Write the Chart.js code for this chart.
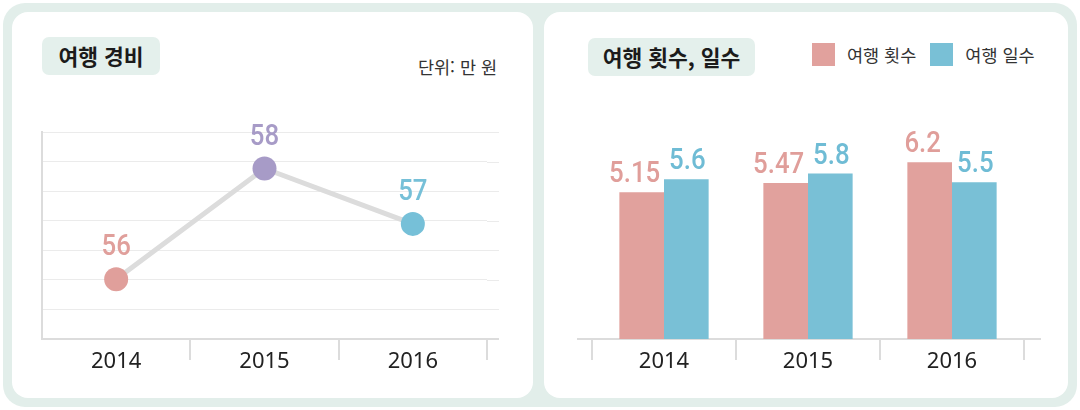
<!DOCTYPE html>
<html lang="ko">
<head>
<meta charset="utf-8">
<script src="https://cdn.jsdelivr.net/npm/chart.js@4.4.1/dist/chart.umd.min.js"></script>
<style>
  html, body { margin: 0; padding: 0; background: #fff; width: 1080px; height: 410px; overflow: hidden;
    font-family: "Noto Sans CJK KR", "Noto Sans", sans-serif; }
  #frame { position: absolute; left: 3px; top: 3px; width: 1074px; height: 404px; background: #e2eeea; border-radius: 22px; }
  .panel { position: absolute; top: 12px; height: 386px; background: #fff; border-radius: 16px; }
  #panelLeft { left: 12px; width: 521px; }
  #panelRight { left: 544px; width: 524px; }
  .title { position: absolute; height: 38px; line-height: 38px; background: #e4f0ec; border-radius: 7px;
    font-weight: 700; font-size: 21.5px; color: #1b1b1b; text-align: center; white-space: nowrap; }
  #titleLeft { left: 42px; top: 37px; width: 118px; }
  #titleRight { left: 588px; top: 38px; width: 167px; }
  #unit { position: absolute; right: 583px; top: 54px; font-size: 17.5px; color: #333; white-space: nowrap; }
  #legend { position: absolute; left: 812px; top: 43px; height: 23px; display: flex; align-items: center; white-space: nowrap; }
  .lg-item { display: flex; align-items: center; margin-right: 14px; }
  .lg-box { width: 23px; height: 23px; margin-right: 12px; }
  .lg-text { font-size: 17.5px; color: #333; }
  canvas { position: absolute; left: 0; top: 0; }
</style>
</head>
<body>
<div id="frame"></div>
<div class="panel" id="panelLeft"></div>
<div class="panel" id="panelRight"></div>
<div class="title" id="titleLeft">여행 경비</div>
<div id="unit">단위: 만 원</div>
<div class="title" id="titleRight">여행 횟수, 일수</div>
<div id="legend"></div>
<canvas id="costChart" width="1080" height="410"></canvas>
<canvas id="tripChart" width="1080" height="410"></canvas>
<script>
// Years on the category axis
const years = ['2014', '2015', '2016'];

// Travel expenses (unit: 10,000 won)
const travelCost = [56, 58, 57];
const costPointColors = ['#e09f9b', '#a79bc7', '#76c0d8'];

// Number of trips and number of travel days
const tripCount = [5.15, 5.47, 6.2];
const tripDays = [5.6, 5.8, 5.5];
const seriesNames = ['여행 횟수', '여행 일수'];
const seriesColors = ['#e1a19d', '#79c0d6'];
const seriesLabelColors = ['#e09e9a', '#6fbcd5'];

const labelFont = '500 30px Roboto';
const labelSqueeze = 0.86;   // narrow the value digits horizontally
const tickFont = { family: 'Noto Sans', size: 22 };
const lineGray = '#dcdcdc';

// Writes each value above its point or bar
const valueLabels = {
  id: 'valueLabels',
  afterDatasetsDraw(chart, args, opts) {
    const ctx = chart.ctx;
    chart.data.datasets.forEach((ds, di) => {
      const meta = chart.getDatasetMeta(di);
      meta.data.forEach((el, i) => {
        const c = opts.colors[di];
        const dx = opts.dx ? opts.dx[di] : 0;
        ctx.save();
        ctx.font = opts.font;
        ctx.textAlign = 'center';
        ctx.textBaseline = 'alphabetic';
        ctx.fillStyle = Array.isArray(c) ? c[i] : c;
        ctx.translate(el.x + dx, el.y - opts.gap);
        ctx.scale(labelSqueeze, 1);
        ctx.fillText(String(ds.data[i]), 0, 0);
        ctx.restore();
      });
    });
  }
};

// Lets the baseline (and optionally the value grid) run a little past the plot area
const axisExtension = {
  id: 'axisExtension',
  beforeDatasetsDraw(chart, args, opts) {
    const { ctx, chartArea, scales } = chart;
    ctx.save();
    if (opts.grid) {
      ctx.strokeStyle = opts.gridColor;
      ctx.lineWidth = 1;
      scales.y.ticks.forEach(t => {
        const y = Math.round(scales.y.getPixelForValue(t.value)) + 0.5;
        ctx.beginPath();
        ctx.moveTo(chartArea.right, y);
        ctx.lineTo(chartArea.right + opts.right, y);
        ctx.stroke();
      });
    }
    ctx.strokeStyle = opts.baseColor;
    ctx.lineWidth = 2;
    ctx.beginPath();
    ctx.moveTo(chartArea.left - opts.left, chartArea.bottom);
    ctx.lineTo(chartArea.right + opts.right, chartArea.bottom);
    ctx.stroke();
    ctx.restore();
  }
};

// HTML legend for the bar chart
const legendEl = document.getElementById('legend');
seriesNames.forEach((name, i) => {
  const item = document.createElement('div');
  item.className = 'lg-item';
  const box = document.createElement('div');
  box.className = 'lg-box';
  box.style.background = seriesColors[i];
  const txt = document.createElement('span');
  txt.className = 'lg-text';
  txt.textContent = name;
  item.appendChild(box);
  item.appendChild(txt);
  legendEl.appendChild(item);
});

const xAxisBase = {
  type: 'category',
  offset: true,
  afterFit(scale) { scale.height = 50; },
  ticks: { font: tickFont, color: '#222', padding: -11, maxRotation: 0 },
  border: { display: false }
};

// Line chart: travel expenses
new Chart(document.getElementById('costChart'), {
  type: 'line',
  data: {
    labels: years,
    datasets: [{
      label: '여행 경비',
      data: travelCost,
      borderColor: lineGray,
      borderWidth: 5,
      tension: 0,
      pointRadius: 12,
      pointHoverRadius: 12,
      pointBorderWidth: 0,
      pointBackgroundColor: costPointColors
    }]
  },
  options: {
    responsive: false,
    animation: false,
    devicePixelRatio: 1,
    layout: { padding: { left: 42, right: 593, top: 132, bottom: 21 } },
    plugins: {
      legend: { display: false },
      tooltip: { enabled: false },
      valueLabels: { font: labelFont, colors: [costPointColors], gap: 24 },
      axisExtension: { grid: true, gridColor: '#ebebeb', baseColor: lineGray, left: 0, right: 12 }
    },
    scales: {
      x: Object.assign({}, xAxisBase, {
        grid: {
          offset: true, drawOnChartArea: false, drawTicks: true, tickLength: 21, lineWidth: 2,
          color: (c) => (c.index === 0 ? 'rgba(0,0,0,0)' : lineGray)
        }
      }),
      y: {
        min: 54.92,
        max: 58.66,
        afterFit(scale) { scale.width = 0; },
        ticks: { count: 8, display: false },
        grid: { color: '#ebebeb', lineWidth: 1, drawTicks: false },
        border: { display: true, color: lineGray, width: 2 }
      }
    }
  },
  plugins: [valueLabels, axisExtension]
});

// Bar chart: trips and travel days
new Chart(document.getElementById('tripChart'), {
  type: 'bar',
  data: {
    labels: years,
    datasets: [
      { label: seriesNames[0], data: tripCount, backgroundColor: seriesColors[0] },
      { label: seriesNames[1], data: tripDays, backgroundColor: seriesColors[1] }
    ]
  },
  options: {
    responsive: false,
    animation: false,
    devicePixelRatio: 1,
    datasets: { bar: { categoryPercentage: 0.62, barPercentage: 1.0 } },
    layout: { padding: { left: 592, right: 56, top: 128, bottom: 21 } },
    plugins: {
      legend: { display: false },
      tooltip: { enabled: false },
      valueLabels: { font: labelFont, colors: seriesLabelColors, gap: 10, dx: [-7, 1] },
      axisExtension: { grid: false, baseColor: lineGray, left: 15, right: 17 }
    },
    scales: {
      x: Object.assign({}, xAxisBase, {
        grid: { offset: true, drawOnChartArea: false, drawTicks: true, tickLength: 21, lineWidth: 2, color: lineGray }
      }),
      y: {
        display: false,
        min: 0,
        max: 7.4
      }
    }
  },
  plugins: [valueLabels, axisExtension]
});
</script>
</body>
</html>
